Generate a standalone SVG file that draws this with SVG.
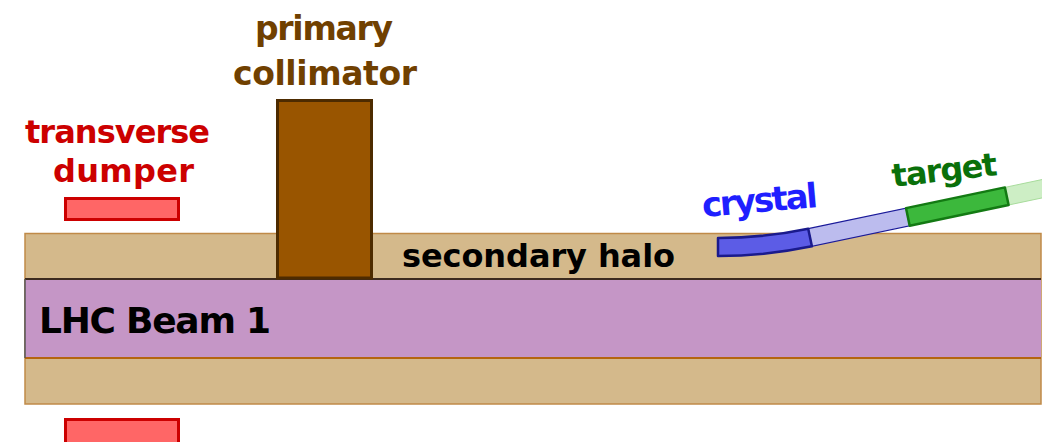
<svg xmlns="http://www.w3.org/2000/svg" width="1053" height="442" viewBox="0 0 1053 442">
<style>
text{font-family:"DejaVu Sans","Liberation Sans",sans-serif;font-weight:bold}
.halo{fill:#d4b98b;stroke:#c08a48;stroke-width:1.5}
.dump{fill:#ff6666;stroke:#cc0000;stroke-width:3}
</style>
<defs>
<clipPath id="clipR"><rect x="0" y="0" width="1042" height="442"/></clipPath>
</defs>
<rect width="1053" height="442" fill="#ffffff"/>
<g id="halo">
<rect class="halo" x="25" y="233.5" width="1016" height="170.5"/>
</g>
<g id="beam">
<rect x="25" y="279" width="1016" height="79" fill="#c596c6"/>
<line x1="25" y1="279" x2="1041" y2="279" stroke="#3d2b1f" stroke-width="2"/>
<line x1="25" y1="358" x2="1041" y2="358" stroke="#b5650f" stroke-width="2"/>
<line x1="25" y1="279" x2="25" y2="358" stroke="#555" stroke-width="1.5"/>
<text x="39" y="333" font-size="36" fill="#000" textLength="232">LHC Beam 1</text>
</g>
<g id="secondary-halo">
<text x="402" y="267" font-size="32" fill="#000" textLength="273">secondary halo</text>
</g>
<g id="primary-collimator">
<rect x="277.5" y="100.5" width="94" height="177.5" fill="#995500" stroke="#4d2b00" stroke-width="3"/>
<text x="255" y="40" font-size="33" fill="#704000" textLength="138">primary</text>
<text x="233" y="85" font-size="33" fill="#704000" textLength="184">collimator</text>
</g>
<g id="transverse-dumper">
<rect class="dump" x="65.5" y="198.5" width="113" height="21"/>
<rect class="dump" x="65.5" y="419.5" width="113" height="25"/>
<text x="25" y="143" font-size="32" fill="#cc0000" textLength="185">transverse</text>
<text x="53" y="182" font-size="32" fill="#cc0000" textLength="141">dumper</text>
</g>
<g id="beamline-strip" clip-path="url(#clipR)">
<polygon points="808.2,228.7 906.0,208.1 909.7,225.8 811.9,246.3" fill="#bcbcee" stroke="#1a1a99" stroke-width="1.2"/>
<polygon points="1004.9,187.4 1048.9,178.1 1052.6,195.7 1008.6,205.0" fill="#cdeec5" stroke="#a8dc9c" stroke-width="1"/>
</g>
<g id="crystal">
<path d="M718,238 A438.7,438.7 0 0 0 808.2,228.7 L811.9,246.3 A456.7,456.7 0 0 1 718,256 Z" fill="#5c5ce6" stroke="#1a1a8c" stroke-width="2.5" stroke-linejoin="round"/>
<text x="703" y="217" font-size="34" fill="#1f1fff" textLength="116" transform="rotate(-5 703 217)">crystal</text>
</g>
<g id="target">
<polygon points="906.0,208.1 1004.9,187.4 1008.6,205.0 909.7,225.8" fill="#3cb83c" stroke="#137a13" stroke-width="2.5" stroke-linejoin="round"/>
<text x="893" y="187" font-size="32" fill="#0a700a" textLength="106" transform="rotate(-6.5 893 187)">target</text>
</g>
<g id="connectors"/>
</svg>
